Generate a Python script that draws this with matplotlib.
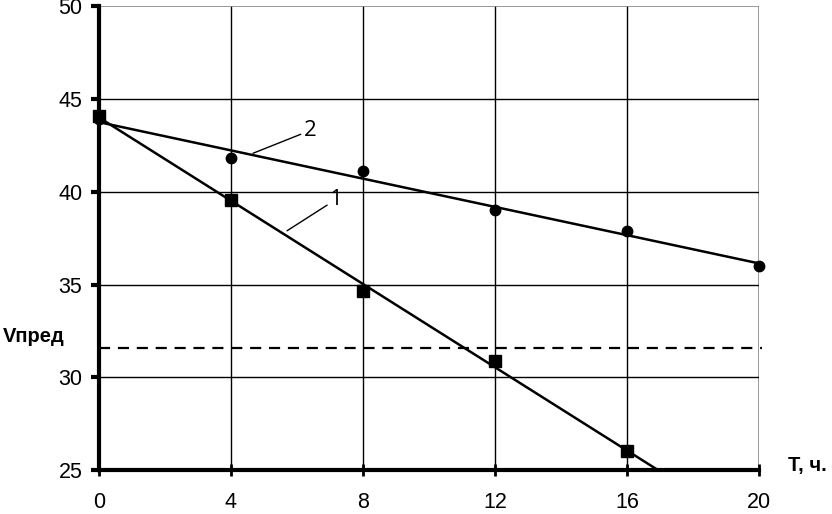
import numpy as np
import matplotlib
matplotlib.use("Agg")
import matplotlib.pyplot as plt

plt.rcParams['font.family'] = ['Liberation Sans', 'DejaVu Sans']

# measured points
t1 = [0, 4, 8, 12, 16]
v1 = [44.1, 39.55, 34.64, 30.87, 26.0]
t2 = [0, 4, 8, 12, 16, 20]
v2 = [43.9, 41.8, 41.1, 39.0, 37.9, 36.0]
v_limit = 31.6

xticks = [0, 4, 8, 12, 16, 20]
yticks = [25, 30, 35, 40, 45, 50]

fig = plt.figure(figsize=(8.32, 5.14), dpi=100)
ax = fig.add_axes([0.119, 0.0856, 0.793, 0.902])
ax.set_xlim(0, 20)
ax.set_ylim(25, 50)

# grid
for x in xticks[1:-1]:
    ax.axvline(x, color='black', lw=1.0, zorder=1)
ax.axvline(20, color='#888888', lw=1.2, zorder=1)
for y in yticks[1:-1]:
    ax.axhline(y, color='black', lw=1.0, zorder=1)
ax.axhline(50, color='#888888', lw=1.2, zorder=1)

# linear trends
k1, b1 = np.polyfit(t1, v1, 1)
k2, b2 = np.polyfit(t2, v2, 1)
x1 = np.array([0, (25 - b1) / k1])
x2 = np.array([0, 20])
ax.plot(x1, k1 * x1 + b1, color='black', lw=1.8, zorder=3, clip_on=False)
ax.plot(x2, k2 * x2 + b2, color='black', lw=1.8, zorder=3)

ax.plot(t1, v1, 's', color='black', ms=8, zorder=4, clip_on=False)
ax.plot(t2, v2, 'o', color='black', ms=7.5, zorder=4, clip_on=False)

ax.plot([0, 20.1], [v_limit, v_limit], color='black', lw=1.6,
        dashes=(5, 3.5), zorder=2, clip_on=False)

# curve labels
ax.annotate('2', xy=(4.67, 42.08), xytext=(6.2, 43.3), fontsize=16,
            family=['Open Sans', 'DejaVu Sans'], ha='left', va='center',
            arrowprops=dict(arrowstyle='-', color='black', lw=1,
                            shrinkA=0, shrinkB=0))
ax.annotate('1', xy=(5.7, 37.9), xytext=(7.0, 39.6), fontsize=16,
            family=['Open Sans', 'DejaVu Sans'], ha='left', va='center',
            arrowprops=dict(arrowstyle='-', color='black', lw=1,
                            shrinkA=0, shrinkB=0))

for s in ['top', 'right']:
    ax.spines[s].set_visible(False)
for s in ['left', 'bottom']:
    ax.spines[s].set_linewidth(3)
    ax.spines[s].set_zorder(5)

ax.set_xticks(xticks)
ax.set_yticks(yticks)
ax.tick_params(axis='y', direction='out', length=6, width=3, labelsize=15.5, pad=6)
ax.tick_params(axis='x', direction='inout', length=8, width=2, labelsize=15.5, pad=12)

fig.text(0.004, 0.345, 'Vпред', fontsize=14.5, fontweight='bold', va='center')
fig.text(0.947, 0.095, 'T, ч.', fontsize=14.5, fontweight='bold', va='center')

fig.savefig('out.png', dpi=100)
